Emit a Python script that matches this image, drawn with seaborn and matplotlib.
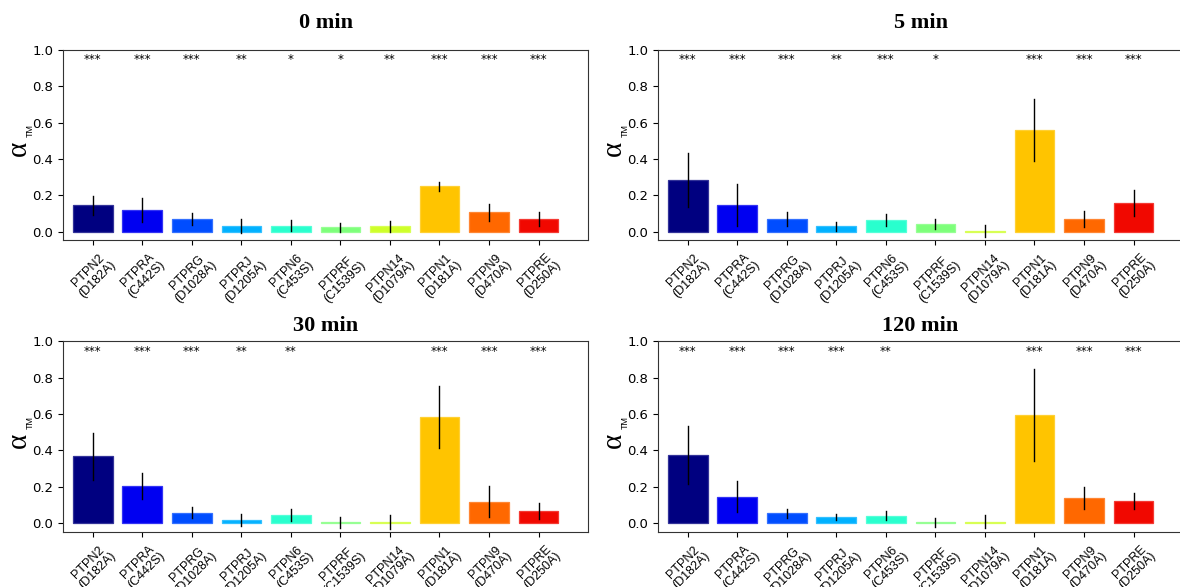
import numpy as np
import pandas as pd
import matplotlib
matplotlib.use('Agg')
import matplotlib.pyplot as plt
import matplotlib.colors as mcolors
import seaborn as sns

# Phosphatase trapping mutants (x categories)
proteins = ['PTPN2\n(D182A)', 'PTPRA\n(C442S)', 'PTPRG\n(D1028A)', 'PTPRJ\n(D1205A)',
            'PTPN6\n(C453S)', 'PTPRF\n(C1539S)', 'PTPN14\n(D1079A)', 'PTPN1\n(D181A)',
            'PTPN9\n(D470A)', 'PTPRE\n(D250A)']
timepoints = ['0 min', '5 min', '30 min', '120 min']

# mean alpha_TM per time point
mean_0 = [0.146, 0.120, 0.070, 0.032, 0.032, 0.025, 0.029, 0.249, 0.107, 0.071]
mean_5 = [0.285, 0.146, 0.069, 0.029, 0.064, 0.044, 0.004, 0.558, 0.069, 0.159]
mean_30 = [0.368, 0.205, 0.058, 0.017, 0.045, 0.006, 0.007, 0.584, 0.120, 0.067]
mean_120 = [0.376, 0.147, 0.055, 0.037, 0.043, 0.006, 0.010, 0.593, 0.139, 0.124]

# half-length of the error bars
err_0 = [0.052, 0.065, 0.033, 0.040, 0.030, 0.025, 0.028, 0.023, 0.047, 0.040]
err_5 = [0.150, 0.115, 0.040, 0.027, 0.032, 0.027, 0.035, 0.170, 0.045, 0.070]
err_30 = [0.130, 0.072, 0.030, 0.032, 0.033, 0.032, 0.038, 0.171, 0.086, 0.044]
err_120 = [0.160, 0.083, 0.023, 0.017, 0.026, 0.026, 0.034, 0.252, 0.062, 0.045]

# significance marks
stars_0 = ['***', '***', '***', '**', '*', '*', '**', '***', '***', '***']
stars_5 = ['***', '***', '***', '**', '***', '*', '', '***', '***', '***']
stars_30 = ['***', '***', '***', '**', '**', '', '', '***', '***', '***']
stars_120 = ['***', '***', '***', '***', '**', '', '', '***', '***', '***']

means = [mean_0, mean_5, mean_30, mean_120]
errs = [err_0, err_5, err_30, err_120]
stars = [stars_0, stars_5, stars_30, stars_120]

# long table: each bar gets two rows (mean - err, mean + err) so that the
# bar height is the mean and the 100% interval is the error bar
rows = []
for t, m_list, e_list in zip(timepoints, means, errs):
    for p, m, e in zip(proteins, m_list, e_list):
        rows.append({'time': t, 'protein': p, 'alpha': m - e})
        rows.append({'time': t, 'protein': p, 'alpha': m + e})
df = pd.DataFrame(rows)

palette = dict(zip(proteins, plt.cm.jet(np.arange(len(proteins)) / len(proteins))))

fig = plt.figure(figsize=(11.8, 5.87), dpi=100)
positions = [
    [0.0534, 0.591, 0.445, 0.324],
    [0.5576, 0.591, 0.445, 0.324],
    [0.0534, 0.094, 0.445, 0.325],
    [0.5576, 0.094, 0.445, 0.325],
]
title_pads = [16, 16, 7, 7]

for pos, t, s_list, tpad in zip(positions, timepoints, stars, title_pads):
    ax = fig.add_axes(pos)
    sub = df[df['time'] == t]
    sns.barplot(data=sub, x='protein', y='alpha', hue='protein', palette=palette,
                order=proteins, legend=False, errorbar=('pi', 100), saturation=1,
                err_kws={'color': 'black', 'linewidth': 1.0}, capsize=0,
                linewidth=0.9, ax=ax)
    # light rim around each bar, as in the original figure
    for patch in ax.patches:
        fc = np.array(mcolors.to_rgb(patch.get_facecolor()))
        patch.set_edgecolor(fc + (1 - fc) * 0.2)
    for i, s in enumerate(s_list):
        ax.text(i, 0.945, s, ha='center', va='center', fontsize=8.5)
    ax.set_ylim(-0.046, 1.0)
    ax.set_xlim(-0.6, 10.0)
    ax.set_yticks([0.0, 0.2, 0.4, 0.6, 0.8, 1.0])
    ax.tick_params(axis='y', labelsize=9.5)
    ax.set_xticks(range(len(proteins)))
    ax.set_xticklabels(proteins, rotation=45, ha='center', fontsize=9,
                       family='Liberation Sans', linespacing=1.0)
    ax.set_xlabel('')
    ax.set_ylabel('')
    # y label: large serif alpha with a small "TM" subscript
    ax.text(-0.084, 0.48, 'α', rotation=90, transform=ax.transAxes, fontsize=21,
            family='Liberation Serif', ha='center', va='center')
    ax.text(-0.063, 0.575, 'TM', rotation=90, transform=ax.transAxes, fontsize=6.5,
            family='Liberation Sans', ha='center', va='center')
    ax.set_title(t, fontsize=16, fontweight='bold', family='Liberation Serif', pad=tpad)
    for sp in ax.spines.values():
        sp.set_color('#333333')

plt.savefig('out.png', dpi=100)
plt.close()
